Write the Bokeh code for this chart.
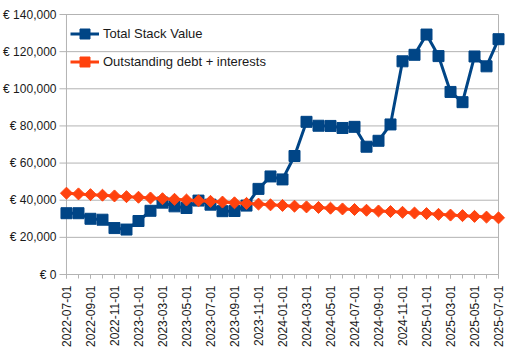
import math
from bokeh.plotting import figure
from bokeh.models import Range1d, FixedTicker, Legend, LegendItem
from bokeh.embed import file_html
from bokeh.resources import INLINE

dates = ["2022-07-01", "2022-08-01", "2022-09-01", "2022-10-01", "2022-11-01", "2022-12-01",
         "2023-01-01", "2023-02-01", "2023-03-01", "2023-04-01", "2023-05-01", "2023-06-01",
         "2023-07-01", "2023-08-01", "2023-09-01", "2023-10-01", "2023-11-01", "2023-12-01",
         "2024-01-01", "2024-02-01", "2024-03-01", "2024-04-01", "2024-05-01", "2024-06-01",
         "2024-07-01", "2024-08-01", "2024-09-01", "2024-10-01", "2024-11-01", "2024-12-01",
         "2025-01-01", "2025-02-01", "2025-03-01", "2025-04-01", "2025-05-01", "2025-06-01",
         "2025-07-01"]

total_stack = [33000, 33000, 30000, 29500, 25000, 24200, 28800, 34300, 38700, 36700,
               35800, 39800, 37600, 34100, 34200, 37100, 46100, 52800, 51200, 63800,
               82200, 80100, 80000, 78900, 79500, 68800, 72000, 80800, 114800, 118300,
               129200, 117600, 98300, 92800, 117400, 112100, 126700]

debt = [43800, 43400, 43000, 42700, 42300, 41900, 41600, 41200, 40800, 40500,
        40100, 39700, 39400, 39000, 38600, 38300, 37900, 37500, 37200, 36800,
        36400, 36100, 35700, 35300, 35000, 34600, 34200, 33900, 33500, 33100,
        32800, 32400, 32000, 31700, 31300, 30900, 30500]

y_ticks = [0, 20000, 40000, 60000, 80000, 100000, 120000, 140000]
y_tick_labels = ["€ 0", "€ 20,000", "€ 40,000", "€ 60,000", "€ 80,000",
                 "€ 100,000", "€ 120,000", "€ 140,000"]

BLUE = "#004586"
RED = "#ff420e"
GRID = "#b3b3b3"
TEXT = "#1a1a1a"
FONT = "Liberation Sans"

W, H = 523, 350
L, R, T, B = 57, 16, 12, 74
n = len(dates)
xs = list(range(n))

# pixel geometry -> data padding (so end markers are not clipped)
frame_w = W - L - R
data_px_left = 8          # first point sits 8px right of frame left
px_per_unit = (frame_w - data_px_left - 9) / (n - 1)
x0 = -data_px_left / px_per_unit
x1 = (n - 1) + 9 / px_per_unit
frame_h = H - T - B
ypad_px = 2
units_per_px_y = (y_ticks[-1] - y_ticks[0]) / (frame_h - 2 * ypad_px)
y0 = y_ticks[0] - ypad_px * units_per_px_y
y1 = y_ticks[-1] + ypad_px * units_per_px_y

p = figure(width=W, height=H, output_backend="svg", toolbar_location=None,
           x_range=Range1d(x0, x1), y_range=Range1d(y0, y1),
           min_border_left=L, min_border_right=R, min_border_top=T, min_border_bottom=B)
p.outline_line_color = None
p.xgrid.visible = False
p.ygrid.visible = False
p.background_fill_color = "white"
p.border_fill_color = "white"

# grid lines (extend 7px left of the axis like tick marks)
tick_ext = -7 / px_per_unit
p.segment(x0=[tick_ext] * len(y_ticks), x1=[n - 1] * len(y_ticks), y0=y_ticks, y1=y_ticks,
          line_color=GRID, line_width=1)
# left and right borders
p.segment(x0=[0, n - 1], x1=[0, n - 1], y0=[y_ticks[0]] * 2, y1=[y_ticks[-1]] * 2,
          line_color=GRID, line_width=1)

# series
r1l = p.line(xs, total_stack, line_color=BLUE, line_width=3)
r1m = p.scatter(xs, total_stack, marker="square", size=11, fill_color=BLUE, line_color=BLUE)
r2l = p.line(xs, debt, line_color=RED, line_width=3)
r2m = p.scatter(xs, debt, marker="square", size=8.5, angle=math.pi / 4,
                fill_color=RED, line_color=RED)

# axes
xa = p.xaxis[0]
xa.ticker = FixedTicker(ticks=xs[::2], minor_ticks=xs)
xa.major_label_overrides = {i: dates[i] for i in xs[::2]}
xa.major_label_orientation = math.pi / 2
xa.axis_line_color = None
xa.major_tick_line_color = GRID
xa.minor_tick_line_color = GRID
xa.major_tick_in = 2
xa.major_tick_out = 2
xa.minor_tick_in = 2
xa.minor_tick_out = 2
xa.major_label_standoff = 7
xa.major_label_text_font = FONT
xa.major_label_text_font_size = "12px"
xa.major_label_text_color = TEXT

ya = p.yaxis[0]
ya.ticker = FixedTicker(ticks=y_ticks, minor_ticks=[])
ya.major_label_overrides = {v: lab for v, lab in zip(y_ticks, y_tick_labels)}
ya.axis_line_color = None
ya.major_tick_line_color = None
ya.major_tick_in = 0
ya.major_tick_out = 0
ya.major_label_standoff = 2
ya.major_label_text_font = FONT
ya.major_label_text_font_size = "12px"
ya.major_label_text_color = TEXT

legend = Legend(items=[LegendItem(label="Total Stack Value", renderers=[r1l, r1m]),
                       LegendItem(label="Outstanding debt + interests", renderers=[r2l, r2m])],
                location=(12, 202), margin=0, padding=5, spacing=3,
                glyph_width=29, glyph_height=25, label_height=25, label_standoff=4,
                label_text_font=FONT, label_text_font_size="13px", label_text_color=TEXT,
                border_line_color=None, background_fill_alpha=0)
p.add_layout(legend, "center")

open("out.html", "w").write(file_html(p, INLINE))
